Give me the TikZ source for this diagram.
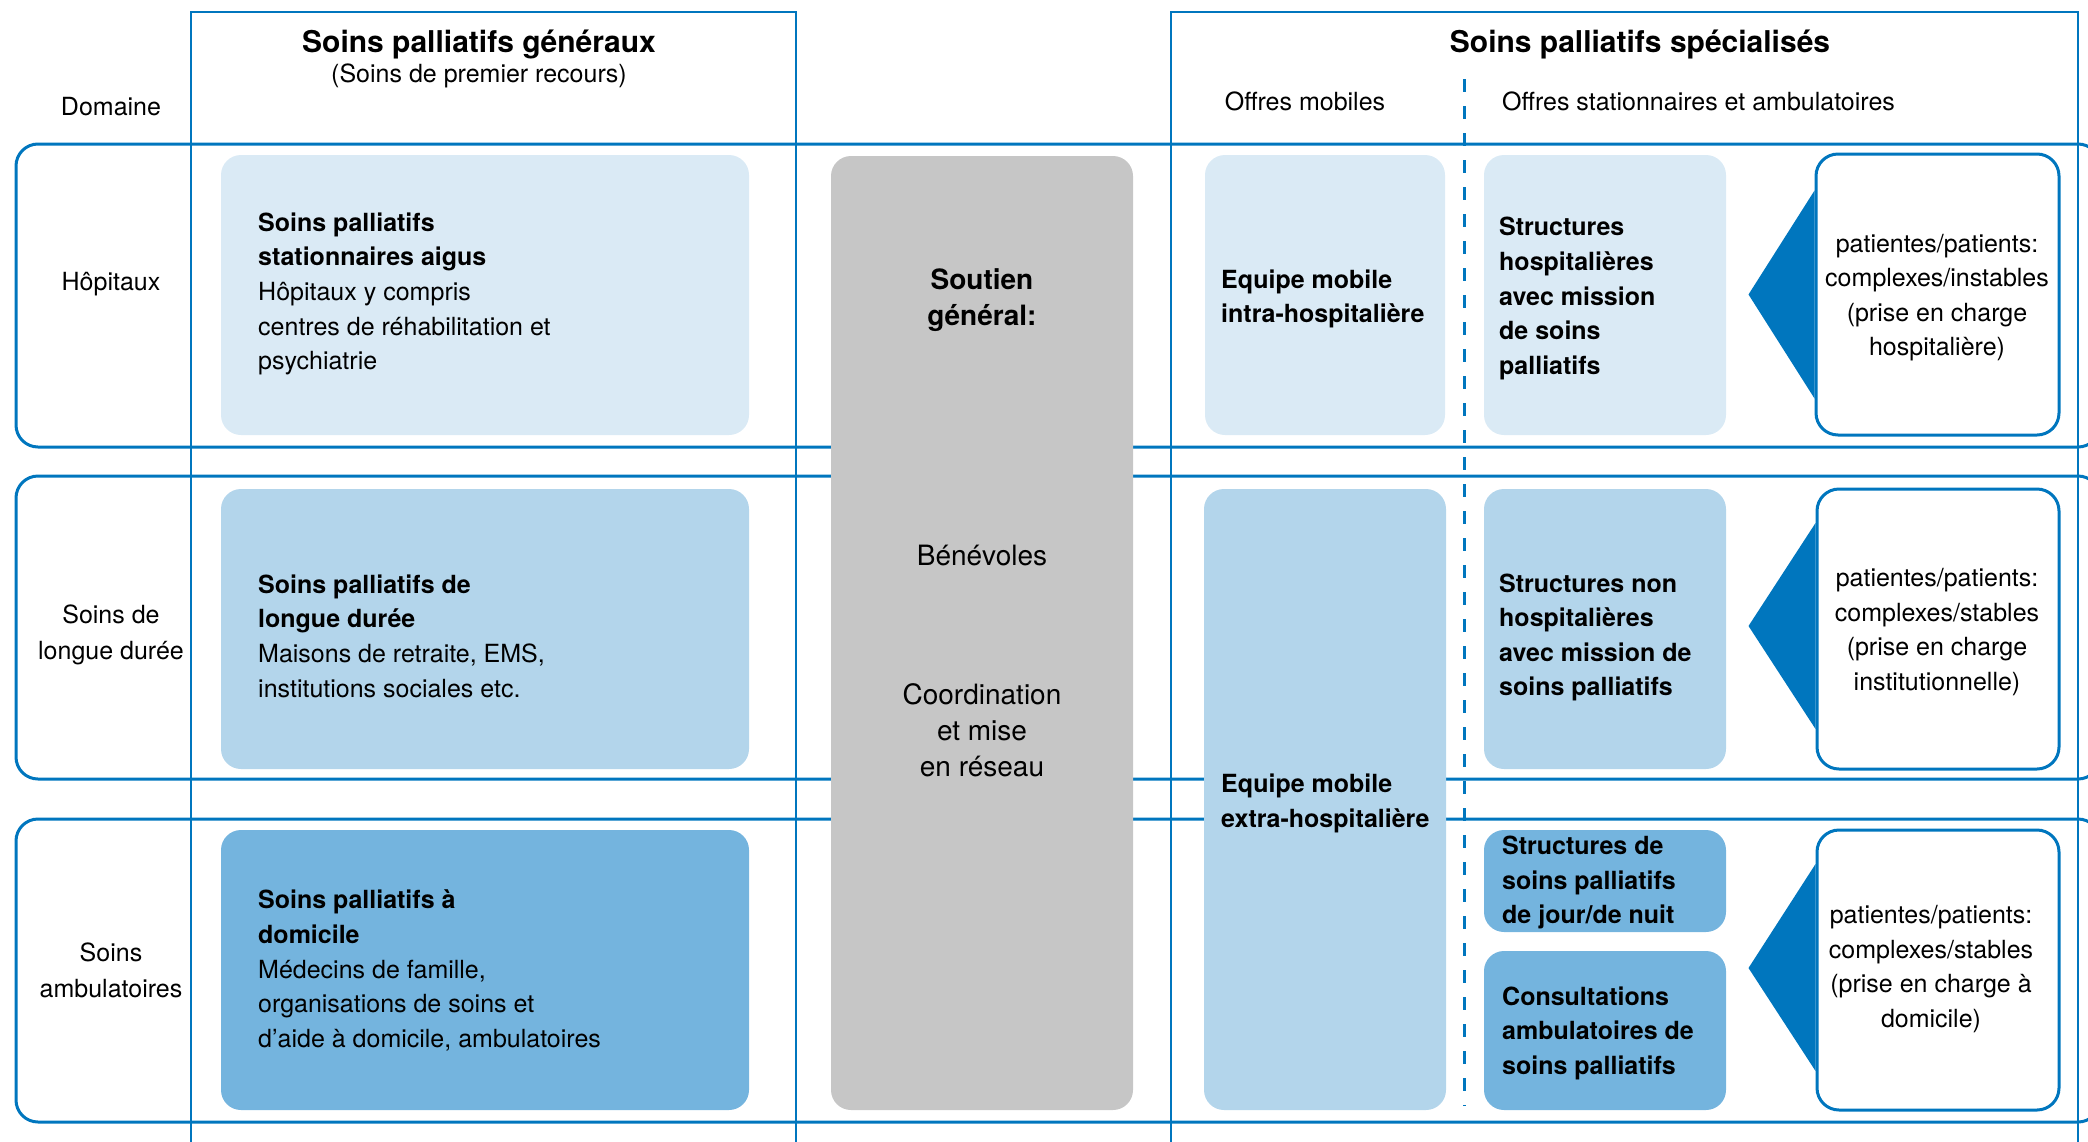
\documentclass[tikz,border=0pt]{standalone}
\usepackage{fontspec}
\setmainfont{TeX Gyre Heros}
\definecolor{ublue}{RGB}{0,118,190}
\definecolor{lightA}{RGB}{218,234,245}
\definecolor{lightB}{RGB}{179,213,235}
\definecolor{lightC}{RGB}{116,180,222}
\definecolor{greybox}{RGB}{198,198,198}
\begin{document}
\begin{tikzpicture}[x=1pt,y=-1pt,
  colline/.style={draw=ublue, line width=2.8pt},
  rowbox/.style={rectangle, draw=ublue, line width=3pt, rounded corners=22pt, inner sep=0pt},
  fillbox/.style={rectangle, rounded corners=20pt, inner sep=0pt},
  pbox/.style={rectangle, draw=ublue, line width=3pt, fill=white, rounded corners=22pt, inner sep=0pt},
  tri/.style={fill=ublue},
  body/.style={font=\fontsize{25}{34.6}\selectfont, inner sep=0pt, align=left, yshift=-3.5pt},
  cbody/.style={font=\fontsize{25}{34.6}\selectfont, inner sep=0pt, align=center, yshift=-3pt},
  head/.style={font=\fontsize{30}{36}\selectfont\bfseries, inner sep=0pt, yshift=-3pt},
  gbody/.style={font=\fontsize{28}{36}\selectfont, inner sep=0pt, align=center}
]
\useasboundingbox (0,0) rectangle (2088,1141);

% column frames
\draw[colline] (191,1150) -- (191,12) -- (796,12) -- (796,1150);
\draw[colline] (1171,1150) -- (1171,12) -- (2078,12) -- (2078,1150);

% row frames
\node[rowbox, minimum width=2084pt, minimum height=303pt] (r1) at (1058,295.5) {};
\node[rowbox, minimum width=2084pt, minimum height=303pt] (r2) at (1058,627.5) {};
\node[rowbox, minimum width=2084pt, minimum height=303pt] (r3) at (1058,970.5) {};

% dashed separator
\coordinate (dtop) at (1464,79);
\coordinate (dbot) at (1464,1106);
\draw[draw=ublue, line width=3pt, dash pattern=on 13pt off 14pt] (dtop) -- (dbot);

% headers
\node[head] (hgen) at (479,41) {Soins palliatifs généraux};
\node[cbody] (hgensub) at (479,73) {(Soins de premier recours)};
\node[head] (hspec) at (1640,41) {Soins palliatifs spécialisés};
\node[cbody, yshift=3pt] (hmob) at (1305,101) {Offres mobiles};
\node[body, anchor=west, yshift=3.5pt] (hstat) at (1502,101) {Offres stationnaires et ambulatoires};

% row labels
\node[cbody] (ldom) at (111,104) {Domaine};
\node[cbody] (lhop) at (111,281) {Hôpitaux};
\node[cbody, font=\fontsize{25}{36}\selectfont] (llong) at (111,632) {Soins de\\longue durée};
\node[cbody, font=\fontsize{25}{36}\selectfont] (lamb) at (111,967) {Soins\\ambulatoires};

% general care boxes
\node[fillbox, fill=lightA, minimum width=528pt, minimum height=280pt] (b1) at (485,295) {};
\node[fillbox, fill=lightB, minimum width=528pt, minimum height=280pt] (b2) at (485,629) {};
\node[fillbox, fill=lightC, minimum width=528pt, minimum height=280pt] (b3) at (485,970) {};
\node[body, anchor=west] (t1) at (258,290.5) {\textbf{Soins palliatifs}\\\textbf{stationnaires aigus}\\Hôpitaux y compris\\centres de réhabilitation et\\psychiatrie};
\node[body, anchor=west] (t2) at (258,632.5) {\textbf{Soins palliatifs de}\\\textbf{longue durée}\\Maisons de retraite, EMS,\\institutions sociales etc.};
\node[body, anchor=west] (t3) at (258,967) {\textbf{Soins palliatifs à}\\\textbf{domicile}\\Médecins de famille,\\organisations de soins et\\d’aide à domicile, ambulatoires};

% general support
\node[fillbox, fill=greybox, minimum width=302pt, minimum height=954pt] (g) at (982,633) {};
\node[gbody, font=\fontsize{28}{36}\selectfont\bfseries, yshift=-4pt] (gs) at (982,296) {Soutien\\général:};
\node[gbody] (gb) at (982,555) {Bénévoles};
\node[gbody] (gc) at (982,730) {Coordination\\et mise\\en réseau};

% specialised boxes
\node[fillbox, fill=lightA, minimum width=240pt, minimum height=280pt] (intra) at (1325,295) {};
\node[fillbox, fill=lightA, minimum width=242pt, minimum height=280pt] (shosp) at (1605,295) {};
\node[fillbox, fill=lightB, minimum width=242pt, minimum height=621pt] (extra) at (1325,799.5) {};
\node[fillbox, fill=lightB, minimum width=242pt, minimum height=280pt] (snon) at (1605,629) {};
\node[fillbox, fill=lightC, minimum width=242pt, minimum height=102pt] (sjour) at (1605,881) {};
\node[fillbox, fill=lightC, minimum width=242pt, minimum height=159pt] (scons) at (1605,1030.5) {};

\node[body, anchor=west] (tintra) at (1221,295.5) {\textbf{Equipe mobile}\\\textbf{intra-hospitalière}};
\node[body, anchor=west] (tshosp) at (1499,295) {\textbf{Structures}\\\textbf{hospitalières}\\\textbf{avec mission}\\\textbf{de soins}\\\textbf{palliatifs}};
\node[body, anchor=west] (textra) at (1221,800) {\textbf{Equipe mobile}\\\textbf{extra-hospitalière}};
\node[body, anchor=west] (tsnon) at (1499,634) {\textbf{Structures non}\\\textbf{hospitalières}\\\textbf{avec mission de}\\\textbf{soins palliatifs}};
\node[body, anchor=west] (tsjour) at (1502,879) {\textbf{Structures de}\\\textbf{soins palliatifs}\\\textbf{de jour/de nuit}};
\node[body, anchor=west] (tscons) at (1502,1029.5) {\textbf{Consultations}\\\textbf{ambulatoires de}\\\textbf{soins palliatifs}};

% patient boxes with pointers
\node[pbox, minimum width=243pt, minimum height=281pt] (p1) at (1937.5,294.5) {};
\fill[tri] ([xshift=-66pt]p1.west) -- ([yshift=104pt]p1.west) -- ([yshift=-104pt]p1.west) -- cycle;
\node[pbox, minimum width=242pt, minimum height=280pt] (p2) at (1938,629) {};
\fill[tri] ([xshift=-67pt,yshift=3pt]p2.west) -- ([yshift=106pt]p2.west) -- ([yshift=-100pt]p2.west) -- cycle;
\node[pbox, minimum width=242pt, minimum height=280pt] (p3) at (1938,970) {};
\fill[tri] ([xshift=-67pt,yshift=2pt]p3.west) -- ([yshift=106pt]p3.west) -- ([yshift=-101pt]p3.west) -- cycle;

\node[cbody, yshift=1pt] (tp1) at (1937,295.6) {patientes/patients:\\complexes/instables\\(prise en charge\\hospitalière)};
\node[cbody, yshift=1pt] (tp2) at (1937,630) {patientes/patients:\\complexes/stables\\(prise en charge\\institutionnelle)};
\node[cbody, yshift=1pt] (tp3) at (1931,967) {patientes/patients:\\complexes/stables\\(prise en charge à\\domicile)};
\end{tikzpicture}
\end{document}
